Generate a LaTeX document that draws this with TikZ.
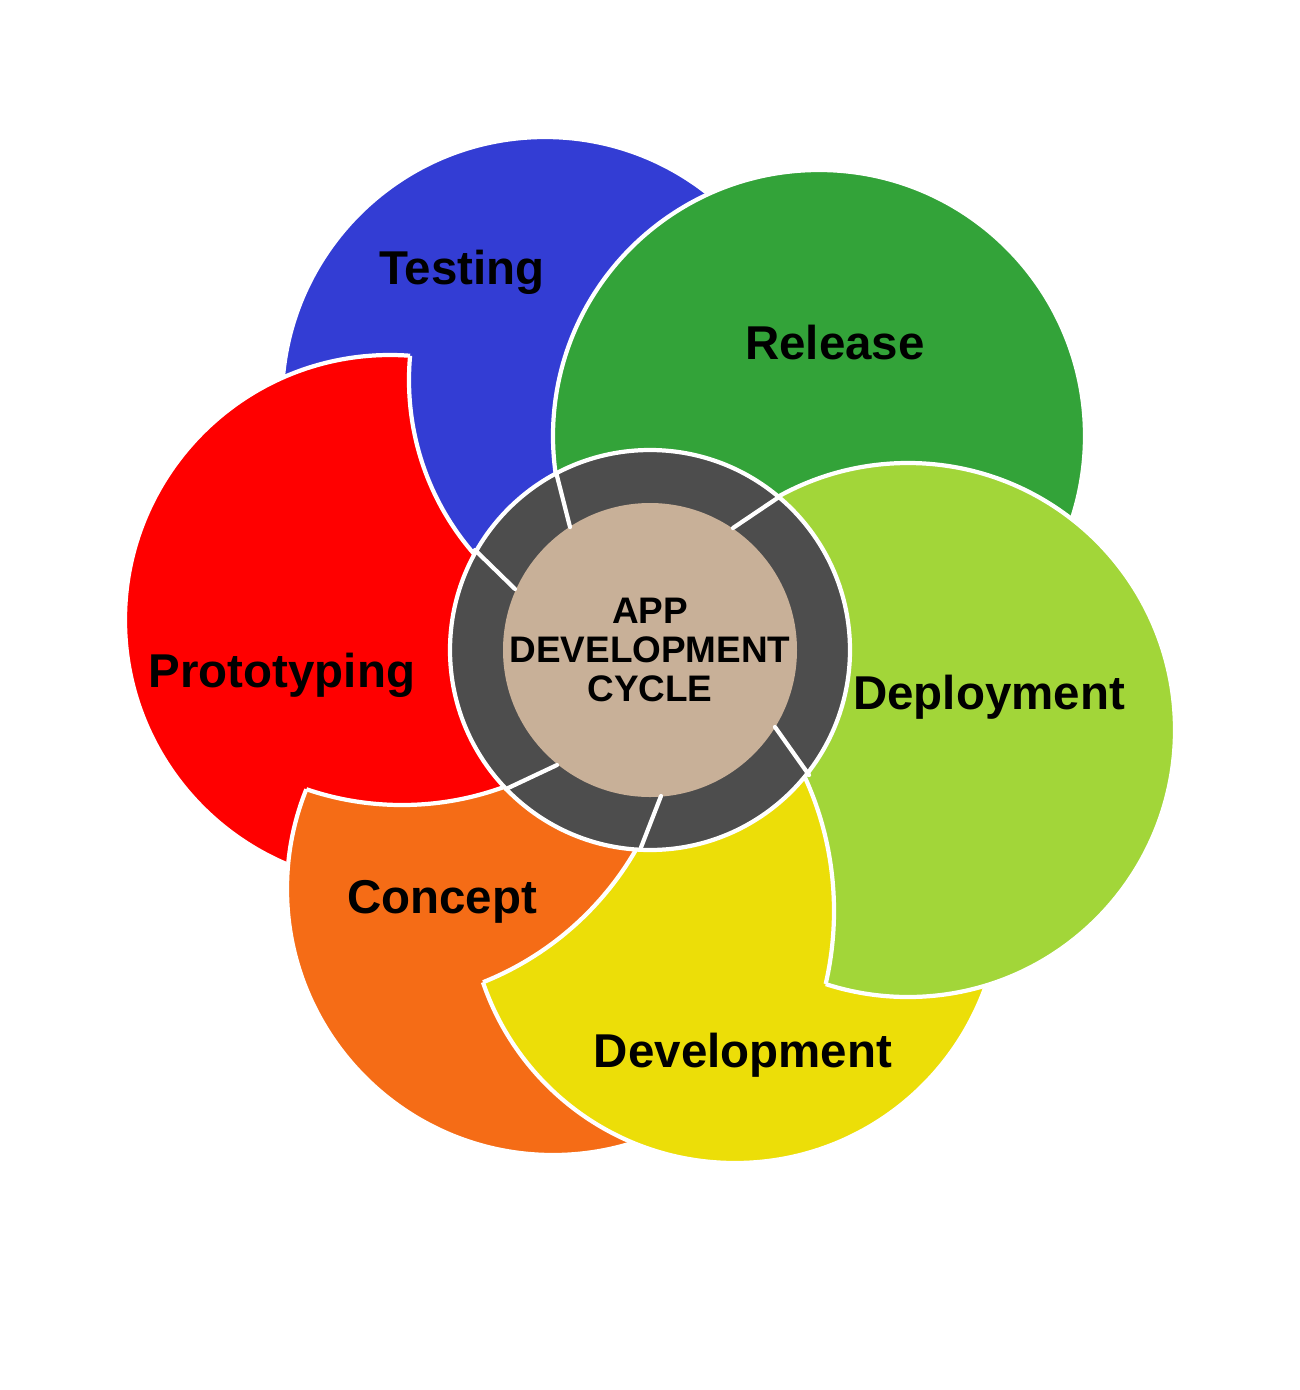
\documentclass[tikz,border=0pt]{standalone}
\usepackage{fontspec}
\setmainfont{Liberation Sans}
\definecolor{testblue}{RGB}{51,61,212}
\definecolor{releasegreen}{RGB}{51,163,57}
\definecolor{deploygreen}{RGB}{162,214,57}
\definecolor{devyellow}{RGB}{236,222,8}
\definecolor{conceptorange}{RGB}{245,108,22}
\definecolor{protored}{RGB}{255,0,0}
\definecolor{ringgray}{RGB}{77,77,77}
\definecolor{corebeige}{RGB}{200,176,152}
\tikzset{
  petal/.style={white, line width=1.2pt},
  steplabel/.style={font=\fontsize{13.5}{15}\selectfont\bfseries, text=black},
  divider/.style={white, line width=1.2pt}
}
\begin{document}
\begin{tikzpicture}[x=0.01cm, y=-0.01cm, line join=round, line cap=round]
    \useasboundingbox (0,0) rectangle (1300,1390);

    % full petals
    \fill[testblue] (545,400) circle (263);
    \draw[petal] (545,400) circle (263);
    \fill[releasegreen] (819,436) circle (266);
    \draw[petal] (819,436) circle (266);

    % petals with a bite: colour/centre/radius/bite centre/bite radius
    \foreach \col/\cx/\cy/\r/\bx/\by/\br in {protored/390/620/265/674/380/265,
        conceptorange/553/889/266/402/509/296,
        devyellow/735/897/266/369/696/308,
        deploygreen/908/730/267/513/911/321} {
        \begin{scope}[even odd rule]
            \clip (0,0) rectangle (1300,1390) (\bx,\by) circle (\br);
            \fill[\col] (\cx,\cy) circle (\r);
            \draw[petal] (\cx,\cy) circle (\r);
        \end{scope}
        \begin{scope}
            \clip (\cx,\cy) circle (\r);
            \draw[petal] (\bx,\by) circle (\br);
        \end{scope}
    }

    % ring and core
    \fill[ringgray] (650,650) circle (200);
    \draw[petal] (650,650) circle (200);
    \fill[corebeige] (650,650) circle (147);

    % ring dividers
    \foreach \xa/\ya/\xb/\yb in {556/472/570/527, 779/497/733/528, 475/550/515/589,
        506/789/557/765, 640/850/661/796, 775/727/809/775} {
        \draw[divider] (\xa,\ya) -- (\xb,\yb);
    }

    % labels
    \node[steplabel] (testing) at (462,272) {Testing};
    \node[steplabel] (release) at (835,343) {Release};
    \node[steplabel] (proto) at (282,675) {Prototyping};
    \node[steplabel] (deploy) at (989,697) {Deployment};
    \node[steplabel] (concept) at (442,902) {Concept};
    \node[steplabel] (devel) at (743,1055) {Development};
    \node[font=\fontsize{10.5}{11.2}\selectfont\bfseries, align=center] (core) at (650,650)
        {APP\\DEVELOPMENT\\CYCLE};
\end{tikzpicture}
\end{document}
